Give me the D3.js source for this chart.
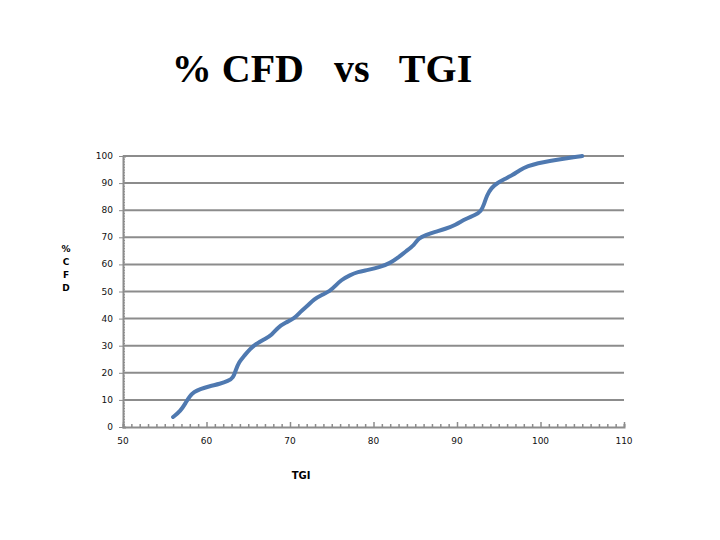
<!DOCTYPE html>
<html><head><meta charset="utf-8">
<script src="https://cdn.jsdelivr.net/npm/d3@7"></script>
<style>body{margin:0;background:#fff;} svg{display:block;}</style>
</head><body>
<script>
const tgi = [56.0,56.9,57.5,58.0,58.5,59.2,60.4,61.6,62.6,63.2,63.5,63.9,64.5,65.2,65.9,67.0,67.8,68.6,69.4,70.6,71.2,72.2,72.9,73.8,74.8,75.4,76.1,77.2,78.1,79.3,80.8,82.0,82.9,83.9,84.9,85.4,86.2,87.4,88.6,89.8,91.0,92.2,92.9,93.2,93.6,94.1,94.8,95.7,96.7,97.5,98.5,99.7,101.1,102.6,104.0,105.0];
const cfd = [3.7,5.9,8.9,11.4,12.9,14.0,15.1,15.9,17.0,18.1,21.0,24.0,26.2,28.8,30.6,32.5,33.9,36.9,38.4,40.2,42.4,45.0,47.2,48.7,50.2,52.0,54.2,56.1,57.2,57.9,59.0,60.5,62.4,64.9,67.2,69.7,70.8,72.0,73.1,74.5,76.8,78.2,79.7,81.9,85.6,88.2,90.0,91.5,93.0,94.8,96.3,97.4,98.2,98.9,99.6,100.0];
const xTicks = [50,60,70,80,90,100,110];
const yTicks = [0,10,20,30,40,50,60,70,80,90,100];
const titleText = "% CFD   vs   TGI";
const xLabel = "TGI";
const yLabelChars = ["%","C","F","D"];

const W=720,H=540;
const svg=d3.select("body").append("svg").attr("width",W).attr("height",H);
const x=d3.scaleLinear().domain([50,110]).range([123,624]);
const y=d3.scaleLinear().domain([0,100]).range([427,156]);
const grey="#8c8c8c";

// gridlines
svg.append("g").selectAll("line").data(yTicks.filter(d=>d>0)).join("line")
  .attr("x1",x(50)).attr("x2",x(110)).attr("y1",d=>y(d)).attr("y2",d=>y(d))
  .attr("stroke",grey).attr("stroke-width",2);

// x axis
const xa=svg.append("g").attr("transform",`translate(0,${y(0)})`)
  .call(d3.axisBottom(x).tickValues(d3.range(50,111,1)).tickSize(-3).tickFormat(""));
xa.select(".domain").attr("stroke",grey).attr("stroke-width",2);
xa.selectAll(".tick line").attr("stroke",grey).attr("stroke-width",1.5)
  .attr("y2",d=>d%10===0?-5:-3);
svg.append("g").selectAll("text").data(xTicks).join("text")
  .attr("x",d=>x(d)).attr("y",y(0)+17).attr("text-anchor","middle")
  .attr("font-family","DejaVu Sans, Verdana, sans-serif").attr("font-size",9).attr("fill","#111")
  .text(d=>d);

// y axis
const ya=svg.append("g").attr("transform",`translate(${x(50)},0)`)
  .call(d3.axisLeft(y).tickValues(d3.range(0,101,1)).tickSize(-3).tickFormat(""));
ya.select(".domain").attr("stroke",grey).attr("stroke-width",2);
ya.selectAll(".tick line").attr("stroke",grey).attr("stroke-width",1)
  .attr("x2",d=>d%10===0?-4:2);
svg.append("g").selectAll("text").data(yTicks).join("text")
  .attr("x",x(50)-10).attr("y",d=>y(d)+3).attr("text-anchor","end")
  .attr("font-family","DejaVu Sans, Verdana, sans-serif").attr("font-size",9).attr("fill","#111")
  .text(d=>d);

// line
const pts=tgi.map((t,i)=>[t,cfd[i]]);
svg.append("path").datum(pts)
  .attr("d",d3.line().x(d=>x(d[0])).y(d=>y(d[1])).curve(d3.curveBasis))
  .attr("fill","none").attr("stroke","#4f79b0").attr("stroke-width",4)
  .attr("stroke-linecap","round").attr("stroke-linejoin","round");

// title
svg.append("text").attr("x",322).attr("y",82).attr("text-anchor","middle")
  .attr("font-family","Liberation Serif, Times New Roman, serif").attr("font-size",40)
  .attr("font-weight","bold").attr("fill","#000").style("white-space","pre").text(titleText);

// axis labels
svg.append("text").attr("x",301).attr("y",479).attr("text-anchor","middle")
  .attr("font-family","DejaVu Sans, Verdana, sans-serif").attr("font-size",10).attr("font-weight","bold")
  .text(xLabel);
svg.append("g").selectAll("text").data(yLabelChars).join("text")
  .attr("x",66).attr("y",(d,i)=>252+i*13).attr("text-anchor","middle")
  .attr("font-family","DejaVu Sans, Verdana, sans-serif").attr("font-size",9).attr("font-weight","bold")
  .text(d=>d);
</script>
</body></html>
